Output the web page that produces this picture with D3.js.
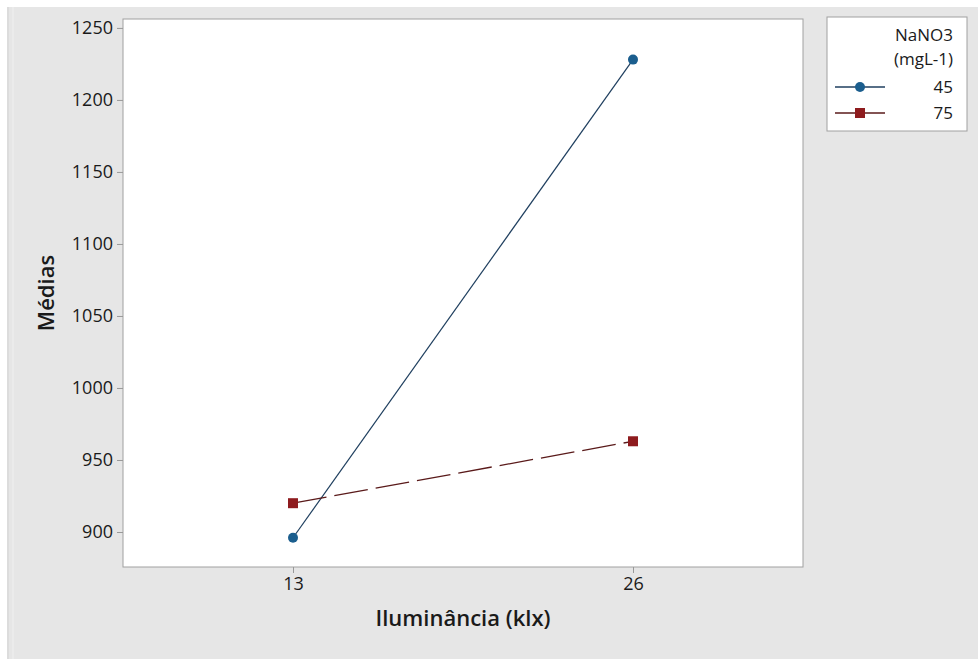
<!DOCTYPE html>
<html>
<head>
<meta charset="utf-8">
<script src="https://cdnjs.cloudflare.com/ajax/libs/d3/7.8.5/d3.min.js"></script>
<style>
  body { margin: 0; background: #fff; }
  text { font-family: "Open Sans", "Noto Sans", sans-serif; fill: #1a1a1a; }
</style>
</head>
<body>
<svg id="chart" width="978" height="659"></svg>
<script>
// data
var levels = [13, 26];
var series = ["45", "75"];
var means45 = [896, 1228];
var means75 = [920, 963];
var yTicks = [900, 950, 1000, 1050, 1100, 1150, 1200, 1250];

var svg = d3.select("#chart");

// gray panel
svg.append("rect").attr("x", 7).attr("y", 7).attr("width", 971).attr("height", 652).attr("fill", "#e6e6e6");
svg.append("line").attr("x1", 8).attr("x2", 8).attr("y1", 7).attr("y2", 659).attr("stroke", "#d2d2d2");
svg.append("line").attr("x1", 13).attr("x2", 13).attr("y1", 7).attr("y2", 659).attr("stroke", "#f0f0f0");

var pLeft = 123, pRight = 803, pTop = 19, pBottom = 567;
var x = d3.scaleLinear().domain([6.5, 32.5]).range([pLeft, pRight]);
var y = d3.scaleLinear().domain([875.7, 1256.2]).range([pBottom, pTop]);

svg.append("rect").attr("x", pLeft).attr("y", pTop).attr("width", pRight - pLeft).attr("height", pBottom - pTop)
  .attr("fill", "#fff").attr("stroke", "#a0a0a0");

var yAxis = svg.append("g").attr("transform", "translate(" + pLeft + ",0)")
  .call(d3.axisLeft(y).tickValues(yTicks).tickSize(6).tickPadding(4).tickFormat(d3.format("d")));
var xAxis = svg.append("g").attr("transform", "translate(0," + pBottom + ")")
  .call(d3.axisBottom(x).tickValues(levels).tickSize(6).tickPadding(4));
[yAxis, xAxis].forEach(function(a) {
  a.select(".domain").remove();
  a.selectAll(".tick line").attr("stroke", "#999");
  a.selectAll(".tick text").style("font-size", "18px").style("font-family", "'Open Sans', sans-serif").attr("fill", "#1a1a1a");
});

// lines
var line = d3.line().x(function(d, i) { return x(levels[i]); }).y(function(d) { return y(d); });
svg.append("path").datum(means45).attr("d", line).attr("fill", "none").attr("stroke", "#1f3f5f").attr("stroke-width", 1.2);
svg.append("path").datum(means75).attr("d", line).attr("fill", "none").attr("stroke", "#5a1a1a").attr("stroke-width", 1.3)
  .attr("stroke-dasharray", "34,8");

svg.selectAll("circle.p45").data(means45).enter().append("circle")
  .attr("cx", function(d, i) { return x(levels[i]); }).attr("cy", function(d) { return y(d); })
  .attr("r", 5).attr("fill", "#1b5e8e");
svg.selectAll("rect.p75").data(means75).enter().append("rect")
  .attr("x", function(d, i) { return x(levels[i]) - 5; }).attr("y", function(d) { return y(d) - 5; })
  .attr("width", 10).attr("height", 10).attr("fill", "#8e1b1e");

// axis titles
svg.append("text").attr("transform", "translate(54,293) rotate(-90)").attr("text-anchor", "middle")
  .style("font-size", "22px").style("font-weight", 600).text("Médias");
svg.append("text").attr("x", 463).attr("y", 626).attr("text-anchor", "middle")
  .style("font-size", "22px").style("font-weight", 600).text("Iluminância (klx)");

// legend
var lg = svg.append("g");
lg.append("rect").attr("x", 827).attr("y", 17).attr("width", 140).attr("height", 114)
  .attr("fill", "#fff").attr("stroke", "#a0a0a0");
lg.append("text").attr("x", 953).attr("y", 41).attr("text-anchor", "end").style("font-size", "17px").text("NaNO3");
lg.append("text").attr("x", 953).attr("y", 65).attr("text-anchor", "end").style("font-size", "17px").text("(mgL-1)");
var colors = ["#1b5e8e", "#8e1b1e"], lineColors = ["#1f3f5f", "#5a1a1a"];
series.forEach(function(s, i) {
  var yy = 87 + i * 26;
  lg.append("line").attr("x1", 835).attr("x2", 885).attr("y1", yy).attr("y2", yy).attr("stroke", lineColors[i]).attr("stroke-width", 1.3);
  if (i === 0) lg.append("circle").attr("cx", 860).attr("cy", yy).attr("r", 5).attr("fill", colors[i]);
  else lg.append("rect").attr("x", 855).attr("y", yy - 5).attr("width", 10).attr("height", 10).attr("fill", colors[i]);
  lg.append("text").attr("x", 953).attr("y", yy + 6).attr("text-anchor", "end").style("font-size", "17px").text(s);
});
</script>
</body>
</html>
